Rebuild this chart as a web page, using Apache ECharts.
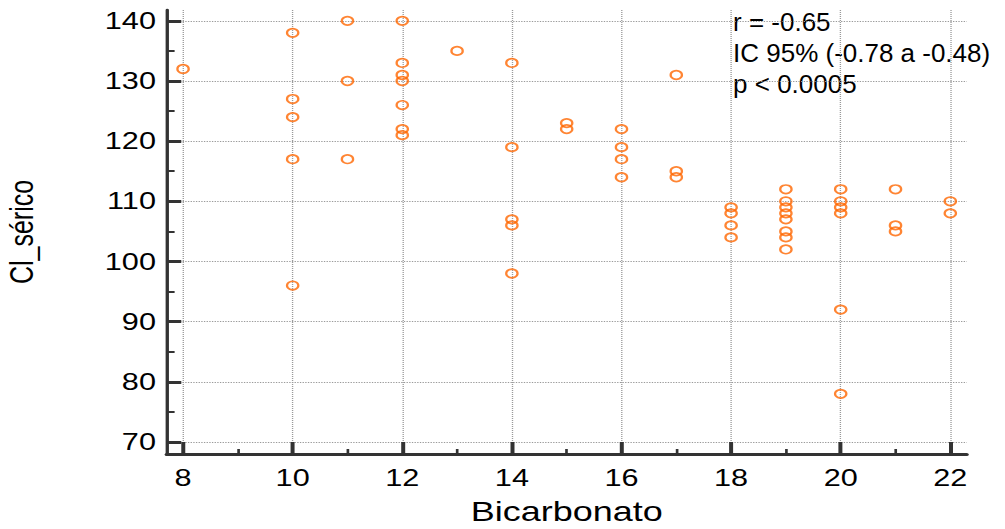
<!DOCTYPE html>
<html>
<head>
<meta charset="utf-8">
<script src="https://cdn.jsdelivr.net/npm/echarts@6/dist/echarts.min.js"></script>
<style>
  html, body { margin: 0; padding: 0; background: #fff; overflow: hidden; }
  /* the source plot is stretched horizontally, so draw narrow and stretch */
  #chart { width: 754px; height: 529px; transform: scaleX(1.3329); transform-origin: 0 0; }
</style>
</head>
<body>
<div id="chart"></div>
<script>
var bicarbonato = [
    8,
    10, 10, 10, 10, 10,
    11, 11, 11,
    12, 12, 12, 12, 12, 12, 12,
    13,
    14, 14, 14, 14, 14,
    15, 15,
    16, 16, 16, 16,
    17, 17, 17,
    18, 18, 18, 18,
    19, 19, 19, 19, 19, 19, 19, 19,
    20, 20, 20, 20, 20, 20,
    21, 21, 21,
    22, 22
];
var clSerico = [
    132,
    138, 127, 124, 117, 96,
    140, 130, 117,
    140, 133, 131, 130, 126, 122, 121,
    135,
    133, 119, 107, 106, 98,
    123, 122,
    122, 119, 117, 114,
    131, 115, 114,
    109, 108, 106, 104,
    112, 110, 109, 108, 107, 105, 104, 102,
    112, 110, 109, 108, 92, 78,
    112, 106, 105,
    110, 108
];
var xTicks = [8, 10, 12, 14, 16, 18, 20, 22];
var xMinorTicks = [9, 11, 13, 15, 17, 19, 21];
var yTicks = [70, 80, 90, 100, 110, 120, 130, 140];
var yMinorTicks = [75, 85, 95, 105, 115, 125, 135];
var statsText = ['r = -0.65', 'IC 95% (-0.78 a -0.48)', 'p < 0.0005'];

var points = bicarbonato.map(function (x, i) { return [x, clSerico[i]]; });

var FONT = '"Liberation Sans", Arial, sans-serif';
var AXIS = '#333333';
var STRETCH = 1.3329;

var chart = echarts.init(document.getElementById('chart'), null, { renderer: 'svg' });

var minorAxis = function (values, len) {
    return {
        type: 'value',
        axisLine: { show: false },
        axisTick: { show: true, inside: true, length: len, customValues: values,
            lineStyle: { color: AXIS, width: 2 } },
        axisLabel: { show: false },
        splitLine: { show: false }
    };
};

chart.setOption({
    animation: false,
    backgroundColor: '#fff',
    grid: { left: 125, right: 28.7, top: 10, bottom: 75, containLabel: false, outerBoundsMode: 'none' },
    xAxis: [
        {
            type: 'value', min: 7.7, max: 22.3, position: 'bottom',
            name: 'Bicarbonato', nameLocation: 'middle', nameGap: 44,
            nameTextStyle: { fontSize: 27, color: '#000', fontFamily: FONT },
            axisLine: { lineStyle: { color: AXIS, width: 3 } },
            axisTick: { inside: true, length: 12, customValues: xTicks,
                lineStyle: { color: AXIS, width: 3 } },
            axisLabel: { customValues: xTicks, fontSize: 23, color: '#000', margin: 12, fontFamily: FONT },
            splitLine: { show: true, lineStyle: { color: '#9a9a9a', type: 'dotted', width: 1 } }
        },
        Object.assign(minorAxis(xMinorTicks, 5), { min: 7.7, max: 22.3, position: 'bottom' })
    ],
    yAxis: [
        {
            type: 'value', min: 68, max: 141.8, position: 'left',
            name: 'Cl_sérico', nameLocation: 'middle', nameGap: 97,
            nameTextStyle: { fontSize: 25, color: '#000', fontFamily: FONT },
            axisLine: { lineStyle: { color: AXIS, width: 2.5 } },
            axisTick: { inside: true, length: 11, customValues: yTicks,
                lineStyle: { color: AXIS, width: 3 } },
            axisLabel: { customValues: yTicks, fontSize: 23, color: '#000', margin: 8, fontFamily: FONT },
            splitLine: { show: true, lineStyle: { color: '#9a9a9a', type: 'dotted', width: 1 } }
        },
        Object.assign(minorAxis(yMinorTicks, 6), { min: 68, max: 141.8, position: 'left' })
    ],
    graphic: [
        {
            type: 'text', x: 550, y: 7, scaleX: 1 / STRETCH,
            style: { text: statsText.join('\n'), fontSize: 26, lineHeight: 31,
                fontFamily: FONT, fill: '#000' }
        }
    ],
    series: [
        {
            type: 'scatter',
            data: points,
            symbol: 'circle',
            symbolSize: 8.5,
            itemStyle: { color: 'rgba(0,0,0,0)', borderColor: '#ff6600', borderWidth: 1.7 }
        }
    ]
});
</script>
</body>
</html>
